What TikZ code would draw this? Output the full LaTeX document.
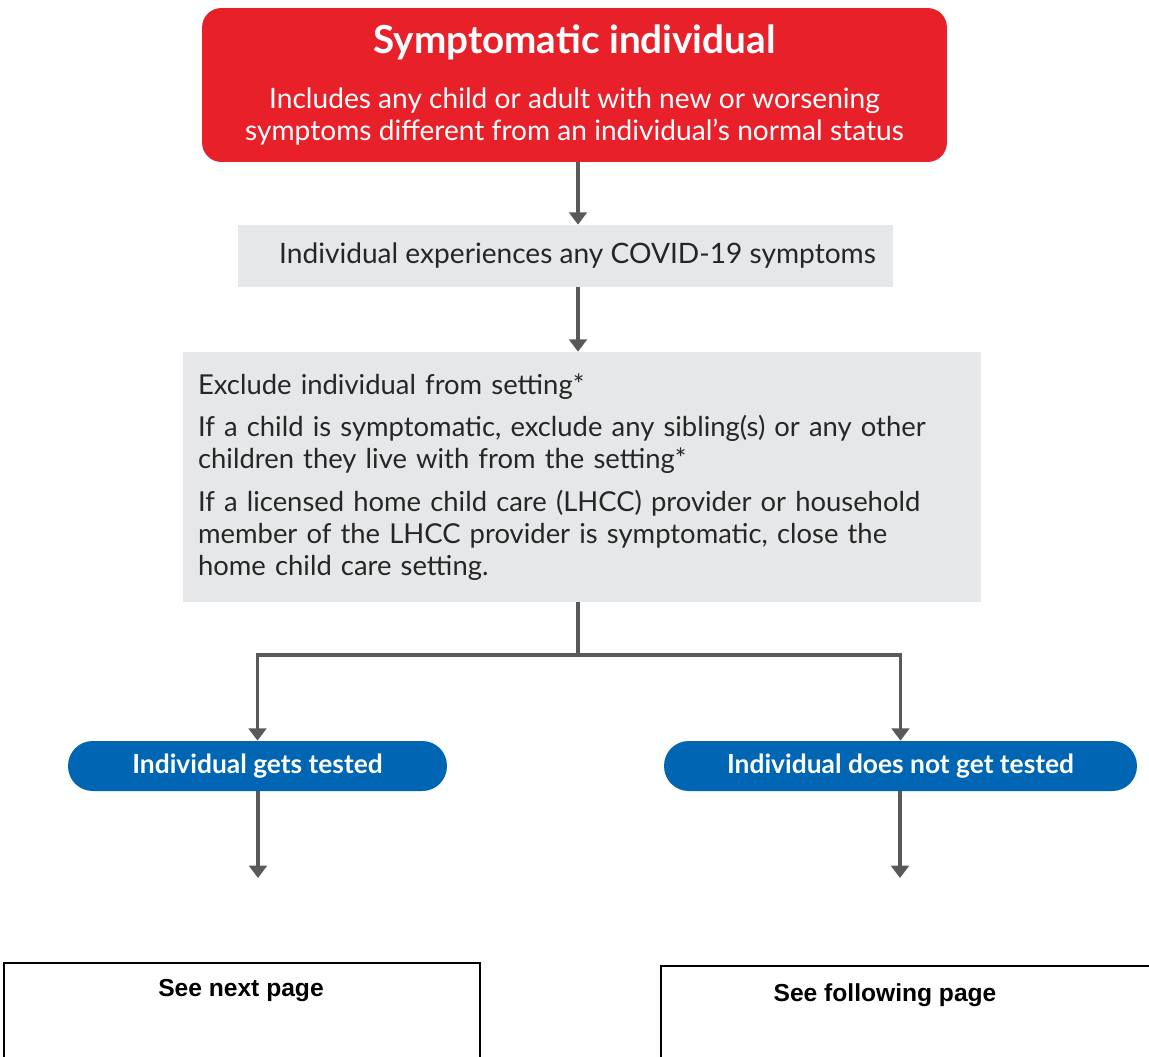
\documentclass[tikz,border=0pt]{standalone}
\usepackage{fontspec}
\setmainfont{Lato}
\newfontfamily\arialfont{Liberation Sans}
\usetikzlibrary{arrows.meta}

\definecolor{alertred}{HTML}{E8202A}
\definecolor{stepgray}{HTML}{E6E7E8}
\definecolor{pillblue}{HTML}{0066B3}
\definecolor{flowgray}{HTML}{58595B}

\tikzset{
  redbox/.style={fill=alertred, rounded corners=11pt, text=white, align=center,
    minimum width=14.9cm, minimum height=3.08cm, inner sep=0pt,
    font=\fontsize{16}{18.2}\selectfont},
  graybox/.style={fill=stepgray, text=black!85, inner sep=0pt,
    font=\fontsize{16}{18.2}\selectfont},
  pill/.style={fill=pillblue, rounded corners=14pt, text=white, inner sep=0pt,
    minimum height=1cm, font=\fontsize{15}{17}\selectfont\bfseries},
  pagebox/.style={draw=black, line width=1.1pt, inner sep=0pt, anchor=north west},
  pagetext/.style={font=\arialfont\fontsize{14}{16}\selectfont\bfseries},
  flow/.style={draw=flowgray, line width=2.2pt, -{Triangle[width=10pt,length=7pt]}},
  flowline/.style={draw=flowgray, line width=2.2pt}
}

\begin{document}
\begin{tikzpicture}[x=0.02cm,y=-0.02cm]
\useasboundingbox (0,0) rectangle (1149,1057);
\clip (0,0) rectangle (1149,1057);

% Boxes
\node[redbox] (symp) at (574.5,85) {%
  {\fontsize{22}{24}\selectfont\bfseries Symptomatic individual}\\[13pt]
  Includes any child or adult with new or worsening\\
  symptoms different from an individual's normal status};

\node[graybox, minimum width=13.1cm, minimum height=1.24cm] (covid) at (565.5,256)
  {\hspace*{0.48cm}Individual experiences any COVID-19 symptoms};

\node[graybox, minimum width=15.96cm, minimum height=5cm, text width=15.36cm,
  align=left, font=\fontsize{15.6}{18.2}\selectfont] (exclude) at (582,477) {%
  Exclude individual from setting*\\[6pt]
  If a child is symptomatic, exclude any sibling(s) or any other\\
  children they live with from the setting*\\[6pt]
  If a licensed home child care (LHCC) provider or household\\
  member of the LHCC provider is symptomatic, close the\\
  home child care setting.\\[24pt]};

\node[pill, minimum width=7.58cm] (tested) at (257.5,766) {Individual gets tested};
\node[pill, minimum width=9.46cm] (untested) at (900.5,766) {Individual does not get tested};

% Page boxes
\node[pagebox, minimum width=9.52cm, minimum height=3cm] (nextbox) at (3,962) {};
\node[pagebox, minimum width=10cm, minimum height=3cm] (followbox) at (660,965) {};
\node[pagetext] (nexttxt) at (241,991) {See next page};
\node[pagetext] (followtxt) at (885,995) {See following page};

% Connectors
\coordinate (split) at (578,0);
\coordinate (fork) at (578,655);
\coordinate (endL) at (258,878);
\coordinate (endR) at (900,878);

\draw[flow] (symp.south -| split) -- (covid.north -| split);
\draw[flow] (covid.south -| split) -- (exclude.north -| split);
\draw[flowline] (exclude.south -| split) -- (fork);
\draw[flow] (fork) -| (tested.north);
\draw[flow] (fork) -| (untested.north);
\draw[flow] (tested.south -| endL) -- (endL);
\draw[flow] (untested.south -| endR) -- (endR);
\end{tikzpicture}
\end{document}
